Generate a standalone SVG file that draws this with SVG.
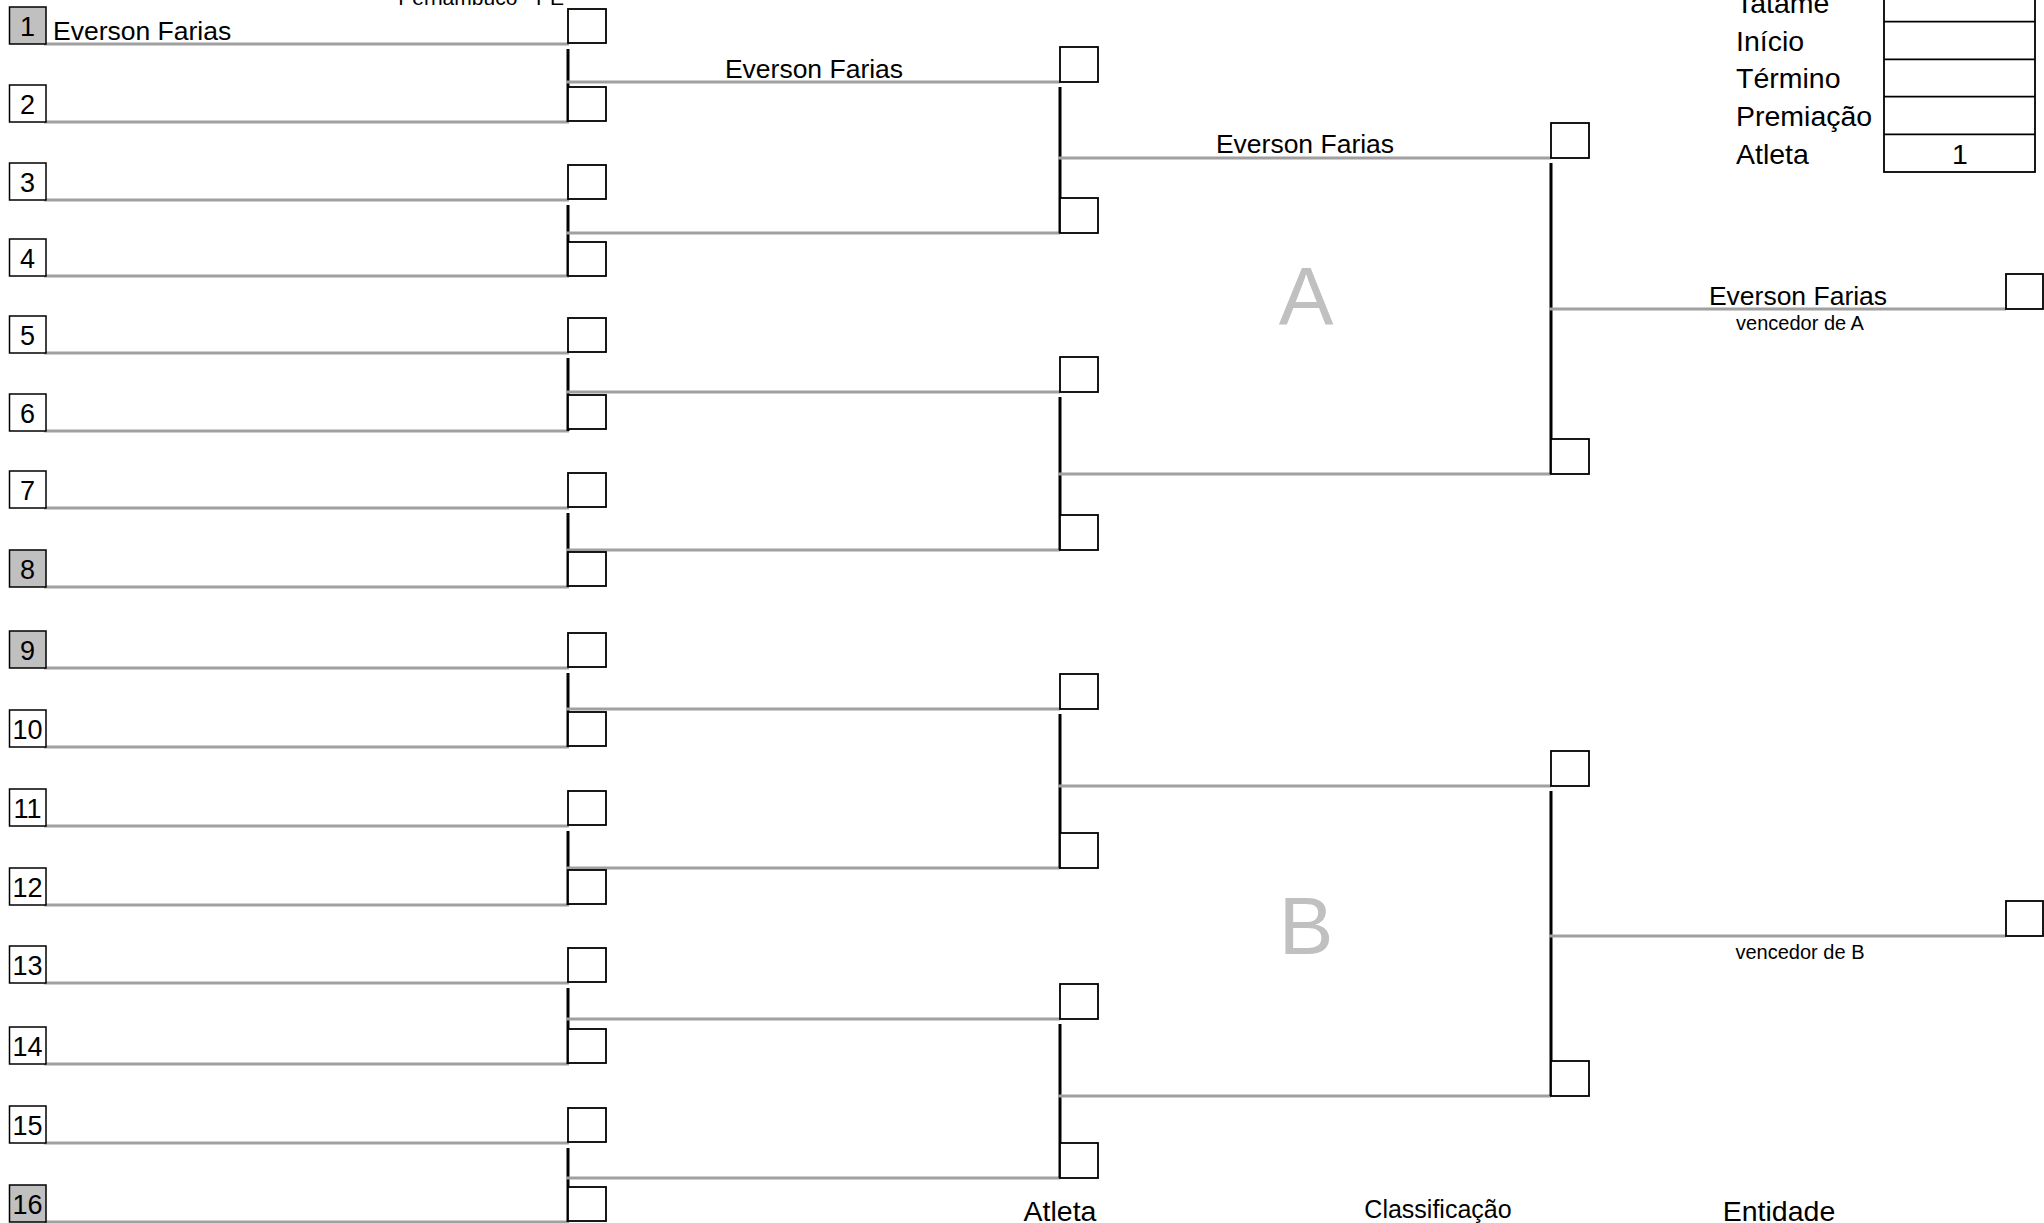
<svg xmlns="http://www.w3.org/2000/svg" width="2044" height="1223" viewBox="0 0 2044 1223">
<style>
text{font-family:"Liberation Sans",Arial,sans-serif;fill:#000}
.nb{fill:#fff;stroke:#000;stroke-width:1.5}
.nbg{fill:#c0c0c0;stroke:#000;stroke-width:1.5}
.sb{fill:#fff;stroke:#000;stroke-width:1.8}
.ln{stroke:#a0a0a0;stroke-width:2.8;fill:none}
.vl{stroke:#000;stroke-width:3;fill:none}
.num{font-size:27px;text-anchor:middle}
.name{font-size:26.5px}
.mid{text-anchor:middle}
.lbl{font-size:28.5px}
.small{font-size:20px;text-anchor:middle}
.big{font-size:82px;text-anchor:middle;fill:#c0c0c0}
</style>
<rect width="2044" height="1223" fill="#fff"/>
<text x="564" y="5" font-size="21" text-anchor="end">Pernambuco - PE</text>
<g id="info">
<rect x="1884" y="-16" width="151" height="188" class="sb"/>
<line x1="1884" y1="21.7" x2="2035" y2="21.7" stroke="#000" stroke-width="1.8"/>
<line x1="1884" y1="59.3" x2="2035" y2="59.3" stroke="#000" stroke-width="1.8"/>
<line x1="1884" y1="96.7" x2="2035" y2="96.7" stroke="#000" stroke-width="1.8"/>
<line x1="1884" y1="134.3" x2="2035" y2="134.3" stroke="#000" stroke-width="1.8"/>
<text x="1736" y="13" class="lbl">Tatame</text>
<text x="1736" y="51" class="lbl">Início</text>
<text x="1736" y="88" class="lbl">Término</text>
<text x="1736" y="126" class="lbl">Premiação</text>
<text x="1736" y="164" class="lbl">Atleta</text>
<text x="1960" y="164" class="lbl mid">1</text>
</g>
<g id="connectors">
<line class="ln" x1="44" y1="44" x2="569" y2="44"/>
<line class="ln" x1="44" y1="122" x2="569" y2="122"/>
<line class="ln" x1="44" y1="200" x2="569" y2="200"/>
<line class="ln" x1="44" y1="276" x2="569" y2="276"/>
<line class="ln" x1="44" y1="353" x2="569" y2="353"/>
<line class="ln" x1="44" y1="431" x2="569" y2="431"/>
<line class="ln" x1="44" y1="508" x2="569" y2="508"/>
<line class="ln" x1="44" y1="587" x2="569" y2="587"/>
<line class="ln" x1="44" y1="668" x2="569" y2="668"/>
<line class="ln" x1="44" y1="747" x2="569" y2="747"/>
<line class="ln" x1="44" y1="826" x2="569" y2="826"/>
<line class="ln" x1="44" y1="905" x2="569" y2="905"/>
<line class="ln" x1="44" y1="983" x2="569" y2="983"/>
<line class="ln" x1="44" y1="1064" x2="569" y2="1064"/>
<line class="ln" x1="44" y1="1143" x2="569" y2="1143"/>
<line class="ln" x1="44" y1="1222" x2="569" y2="1222"/>
<line class="vl" x1="568" y1="49" x2="568" y2="122"/>
<line class="vl" x1="568" y1="205" x2="568" y2="276"/>
<line class="vl" x1="568" y1="358" x2="568" y2="431"/>
<line class="vl" x1="568" y1="513" x2="568" y2="587"/>
<line class="vl" x1="568" y1="673" x2="568" y2="747"/>
<line class="vl" x1="568" y1="831" x2="568" y2="905"/>
<line class="vl" x1="568" y1="988" x2="568" y2="1064"/>
<line class="vl" x1="568" y1="1148" x2="568" y2="1222"/>
<line class="ln" x1="566" y1="82" x2="1060" y2="82"/>
<line class="ln" x1="566" y1="233" x2="1060" y2="233"/>
<line class="ln" x1="566" y1="392" x2="1060" y2="392"/>
<line class="ln" x1="566" y1="550" x2="1060" y2="550"/>
<line class="ln" x1="566" y1="709" x2="1060" y2="709"/>
<line class="ln" x1="566" y1="868" x2="1060" y2="868"/>
<line class="ln" x1="566" y1="1019" x2="1060" y2="1019"/>
<line class="ln" x1="566" y1="1178" x2="1060" y2="1178"/>
<line class="vl" x1="1060" y1="87" x2="1060" y2="233"/>
<line class="vl" x1="1060" y1="397" x2="1060" y2="550"/>
<line class="vl" x1="1060" y1="714" x2="1060" y2="868"/>
<line class="vl" x1="1060" y1="1024" x2="1060" y2="1178"/>
<line class="ln" x1="1058" y1="158" x2="1551" y2="158"/>
<line class="ln" x1="1058" y1="474" x2="1551" y2="474"/>
<line class="ln" x1="1058" y1="786" x2="1551" y2="786"/>
<line class="ln" x1="1058" y1="1096" x2="1551" y2="1096"/>
<line class="vl" x1="1551" y1="163" x2="1551" y2="474"/>
<line class="vl" x1="1551" y1="791" x2="1551" y2="1096"/>
<line class="ln" x1="1549" y1="309" x2="2006" y2="309"/>
<line class="ln" x1="1549" y1="936" x2="2006" y2="936"/>
</g>
<g id="athletes">
<g id="a1"><rect class="nbg" x="9.5" y="7" width="36.5" height="37"/><text class="num" x="27.5" y="36">1</text><text class="name" x="53" y="40">Everson Farias</text></g>
<g id="a2"><rect class="nb" x="9.5" y="85" width="36.5" height="37"/><text class="num" x="27.5" y="114">2</text></g>
<g id="a3"><rect class="nb" x="9.5" y="163" width="36.5" height="37"/><text class="num" x="27.5" y="192">3</text></g>
<g id="a4"><rect class="nb" x="9.5" y="239" width="36.5" height="37"/><text class="num" x="27.5" y="268">4</text></g>
<g id="a5"><rect class="nb" x="9.5" y="316" width="36.5" height="37"/><text class="num" x="27.5" y="345">5</text></g>
<g id="a6"><rect class="nb" x="9.5" y="394" width="36.5" height="37"/><text class="num" x="27.5" y="423">6</text></g>
<g id="a7"><rect class="nb" x="9.5" y="471" width="36.5" height="37"/><text class="num" x="27.5" y="500">7</text></g>
<g id="a8"><rect class="nbg" x="9.5" y="550" width="36.5" height="37"/><text class="num" x="27.5" y="579">8</text></g>
<g id="a9"><rect class="nbg" x="9.5" y="631" width="36.5" height="37"/><text class="num" x="27.5" y="660">9</text></g>
<g id="a10"><rect class="nb" x="9.5" y="710" width="36.5" height="37"/><text class="num" x="27.5" y="739">10</text></g>
<g id="a11"><rect class="nb" x="9.5" y="789" width="36.5" height="37"/><text class="num" x="27.5" y="818">11</text></g>
<g id="a12"><rect class="nb" x="9.5" y="868" width="36.5" height="37"/><text class="num" x="27.5" y="897">12</text></g>
<g id="a13"><rect class="nb" x="9.5" y="946" width="36.5" height="37"/><text class="num" x="27.5" y="975">13</text></g>
<g id="a14"><rect class="nb" x="9.5" y="1027" width="36.5" height="37"/><text class="num" x="27.5" y="1056">14</text></g>
<g id="a15"><rect class="nb" x="9.5" y="1106" width="36.5" height="37"/><text class="num" x="27.5" y="1135">15</text></g>
<g id="a16"><rect class="nbg" x="9.5" y="1185" width="36.5" height="37"/><text class="num" x="27.5" y="1214">16</text></g>
</g>
<g id="round1">
<rect class="sb" x="568" y="9" width="38" height="34"/>
<rect class="sb" x="568" y="87" width="38" height="34"/>
<rect class="sb" x="568" y="165" width="38" height="34"/>
<rect class="sb" x="568" y="242" width="38" height="34"/>
<rect class="sb" x="568" y="318" width="38" height="34"/>
<rect class="sb" x="568" y="395" width="38" height="34"/>
<rect class="sb" x="568" y="473" width="38" height="34"/>
<rect class="sb" x="568" y="552" width="38" height="34"/>
<rect class="sb" x="568" y="633" width="38" height="34"/>
<rect class="sb" x="568" y="712" width="38" height="34"/>
<rect class="sb" x="568" y="791" width="38" height="34"/>
<rect class="sb" x="568" y="870" width="38" height="34"/>
<rect class="sb" x="568" y="948" width="38" height="34"/>
<rect class="sb" x="568" y="1029" width="38" height="34"/>
<rect class="sb" x="568" y="1108" width="38" height="34"/>
<rect class="sb" x="568" y="1187" width="38" height="34"/>
</g>
<g id="round2">
<rect class="sb" x="1060" y="47" width="38" height="35"/>
<rect class="sb" x="1060" y="198" width="38" height="35"/>
<rect class="sb" x="1060" y="357" width="38" height="35"/>
<rect class="sb" x="1060" y="515" width="38" height="35"/>
<rect class="sb" x="1060" y="674" width="38" height="35"/>
<rect class="sb" x="1060" y="833" width="38" height="35"/>
<rect class="sb" x="1060" y="984" width="38" height="35"/>
<rect class="sb" x="1060" y="1143" width="38" height="35"/>
<text class="name mid" x="814" y="78">Everson Farias</text>
</g>
<g id="round3">
<rect class="sb" x="1551" y="123" width="38" height="35"/>
<rect class="sb" x="1551" y="439" width="38" height="35"/>
<rect class="sb" x="1551" y="751" width="38" height="35"/>
<rect class="sb" x="1551" y="1061" width="38" height="35"/>
<text class="name mid" x="1305" y="153">Everson Farias</text>
</g>
<g id="groupA"><text class="big" x="1306" y="324">A</text></g>
<g id="groupB"><text class="big" x="1306" y="954">B</text></g>
<g id="winnerA">
<rect class="sb" x="2006" y="274" width="37" height="35"/>
<text class="name mid" x="1798" y="305">Everson Farias</text>
<text class="small" x="1800" y="330">vencedor de A</text>
</g>
<g id="winnerB">
<rect class="sb" x="2006" y="901" width="37" height="35"/>
<text class="small" x="1800" y="959">vencedor de B</text>
</g>
<g id="footer">
<text class="lbl mid" x="1060" y="1221">Atleta</text>
<text class="mid" font-size="25" x="1438" y="1218">Classificação</text>
<text class="lbl mid" x="1779" y="1221">Entidade</text>
</g>
</svg>
